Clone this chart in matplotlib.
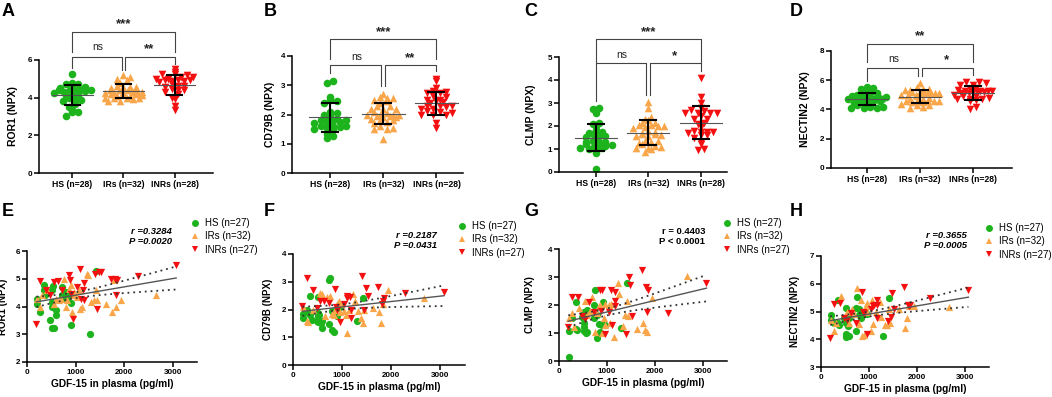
import numpy as np
import matplotlib
matplotlib.use("Agg")
import matplotlib.pyplot as plt
from matplotlib.lines import Line2D

plt.rcParams['font.family'] = ['Liberation Sans', 'DejaVu Sans']

# ---------------- data ----------------
GROUPS_TOP = ["HS (n=28)", "IRs (n=32)", "INRs (n=28)"]
GROUPS_BOT = ["HS (n=27)", "IRs (n=32)", "INRs (n=27)"]

HS_GDF15 = [207, 207, 276, 345, 345, 380, 483, 518, 518, 518, 518, 531, 566, 587, 587,
            725, 725, 759, 794, 794, 828, 863, 897, 911, 952, 1297, 1415]
IRS_GDF15 = [207, 276, 311, 414, 552, 587, 656, 690, 759, 794, 828, 863, 897, 932, 966, 966,
             1035, 1070, 1090, 1139, 1228, 1256, 1325, 1380, 1415, 1435, 1622, 1760, 1794,
             1829, 1932, 2657]
INRS_GDF15 = [193, 276, 400, 483, 552, 635, 725, 863, 876, 897, 952, 1035, 1090, 1104, 1159,
              1173, 1173, 1401, 1449, 1484, 1518, 1725, 1808, 1829, 1849, 2277, 3071]

ROR1_HS = [4.26, 4.10, 3.80, 4.58, 4.76, 4.40, 3.50, 3.98, 4.16, 4.58, 3.23, 4.73, 3.23, 3.86,
           3.68, 4.40, 4.70, 4.34, 4.52, 4.28, 4.34, 4.40, 3.32, 4.14, 4.40, 3.02, 5.28, 3.90]
ROR1_IRS = [4.28, 4.00, 4.40, 4.58, 4.10, 4.28, 4.22, 4.28, 5.00, 3.98, 4.22, 4.64, 4.76, 3.80,
            4.52, 4.40, 4.34, 4.58, 3.92, 3.98, 5.18, 5.12, 4.16, 4.25, 4.58, 4.22, 4.10, 3.80,
            4.94, 3.98, 4.25, 4.40]
ROR1_INRS = [3.36, 4.91, 4.60, 4.40, 4.88, 4.92, 4.58, 5.12, 4.94, 4.46, 3.56, 4.70, 5.36, 4.28,
             4.60, 4.85, 4.22, 5.18, 3.92, 5.24, 5.24, 5.00, 5.00, 4.43, 4.94, 5.09, 5.51, 4.00]

CD79B_HS = [1.84, 1.70, 2.00, 2.49, 1.80, 1.62, 1.60, 1.86, 2.45, 1.55, 1.75, 1.80, 1.50, 1.35,
            1.60, 3.07, 1.48, 3.15, 1.25, 1.95, 1.20, 1.80, 1.75, 2.05, 2.10, 1.57, 2.40, 2.60]
CD79B_IRS = [2.10, 1.60, 1.55, 2.00, 2.60, 2.55, 1.75, 2.45, 2.50, 1.85, 1.80, 2.00, 2.20, 2.30,
             1.90, 2.20, 1.95, 1.80, 1.15, 2.00, 2.55, 2.30, 1.95, 1.70, 1.50, 2.00, 2.05, 1.90,
             1.50, 2.20, 2.70, 2.40]
CD79B_INRS = [2.12, 3.13, 2.72, 2.05, 2.30, 2.30, 2.25, 2.75, 2.10, 2.00, 1.55, 2.20, 2.50, 2.42,
              2.45, 1.70, 2.00, 3.20, 2.00, 2.78, 2.50, 2.82, 2.20, 2.30, 2.40, 2.60, 2.62, 2.90]

CLMP_HS = [0.14, 1.06, 1.55, 2.11, 1.16, 1.12, 1.58, 1.36, 1.22, 1.70, 1.06, 1.76, 1.00, 1.82,
           1.04, 2.00, 1.52, 2.55, 0.82, 1.64, 1.31, 1.04, 1.30, 2.10, 1.30, 1.18, 2.79, 2.75]
CLMP_IRS = [1.55, 1.72, 1.20, 1.90, 2.15, 1.65, 1.80, 2.30, 1.05, 1.70, 1.95, 2.00, 1.00, 1.55,
            2.05, 1.30, 2.00, 1.35, 2.05, 0.85, 2.80, 2.40, 1.25, 1.65, 2.15, 1.60, 1.15, 1.35,
            1.10, 1.05, 2.25, 3.05]
CLMP_INRS = [1.20, 2.30, 2.30, 1.60, 1.50, 2.10, 1.75, 2.55, 1.80, 2.55, 0.98, 1.75, 2.55, 1.30,
             2.45, 2.15, 1.95, 0.95, 3.00, 2.70, 1.62, 3.25, 2.65, 1.75, 2.55, 1.70, 2.80, 4.10]

NECTIN2_HS = [4.87, 4.71, 4.57, 5.41, 4.57, 4.52, 4.75, 5.11, 4.14, 4.57, 4.08, 4.20, 4.47, 4.12,
              4.75, 4.30, 5.11, 5.53, 5.10, 4.87, 4.75, 4.93, 4.95, 5.00, 4.90, 4.11, 5.47, 4.70]
NECTIN2_IRS = [4.70, 4.30, 4.60, 5.55, 5.00, 4.60, 5.10, 4.90, 5.83, 4.55, 5.40, 4.10, 4.15, 5.20,
               5.00, 5.30, 4.30, 5.40, 4.55, 5.00, 5.35, 4.80, 4.50, 4.50, 5.10, 4.60, 5.10, 4.40,
               4.75, 5.20, 5.20, 5.15]
NECTIN2_INRS = [4.05, 5.28, 5.32, 4.75, 4.70, 4.95, 4.60, 5.70, 5.00, 4.95, 4.20, 5.10, 5.20, 5.25,
                4.75, 5.40, 5.25, 4.65, 4.80, 5.68, 5.10, 5.88, 5.25, 5.20, 5.25, 5.48, 5.78, 5.90]

MARKERS = ["ROR1 (NPX)", "CD79B (NPX)", "CLMP (NPX)", "NECTIN2 (NPX)"]
SIG = [("ns", "**", "***"), ("ns", "**", "***"), ("ns", "*", "***"), ("ns", "*", "**")]
STATS = [("r =0.3284", "P =0.0020"), ("r =0.2187", "P =0.0431"),
         ("r = 0.4403", "P < 0.0001"), ("r =0.3655", "P =0.0005")]

DATA = [(ROR1_HS, ROR1_IRS, ROR1_INRS), (CD79B_HS, CD79B_IRS, CD79B_INRS),
        (CLMP_HS, CLMP_IRS, CLMP_INRS), (NECTIN2_HS, NECTIN2_IRS, NECTIN2_INRS)]
GDF = (HS_GDF15, IRS_GDF15, INRS_GDF15)

# ---------------- style ----------------
COLORS = ["#1DB31D", "#F9A64A", "#F41010"]
MSHAPES = ["o", "^", "v"]
W, H = 1052, 397
fig = plt.figure(figsize=(W / 100, H / 100), dpi=100)


def add_ax(l, r, t, b):
    return fig.add_axes([l / W, 1 - b / H, (r - l) / W, (b - t) / H])


def style_ax(ax, lw=1.1):
    for s in ("top", "right"):
        ax.spines[s].set_visible(False)
    for s in ("left", "bottom"):
        ax.spines[s].set_linewidth(lw)
    ax.tick_params(width=lw, length=3.5, labelsize=5.8, pad=1.5)
    for lab in ax.get_xticklabels() + ax.get_yticklabels():
        lab.set_fontweight("bold")


def swarm(vals, binw, step=0.12, half=0.36):
    vals = np.asarray(vals, float)
    off = np.zeros(len(vals))
    bins = np.floor(vals / binw).astype(int)
    for b in np.unique(bins):
        idx = np.where(bins == b)[0]
        idx = idx[np.argsort(vals[idx])]
        k = len(idx)
        if k == 1:
            continue
        w = min(half, (k - 1) * step / 2)
        pos = np.linspace(-w, w, k)
        # interleave so that neighbouring values land on alternate sides
        inter = np.concatenate([pos[0::2], pos[1::2][::-1]])
        off[idx] = inter
    return off


TOP_BOXES = [(39, 213, 60, 173), (292, 463, 56, 173), (559, 727, 57, 172), (831, 1012, 51, 168)]
TOP_YLIM = [(0, 6, 2), (0, 4, 1), (0, 5, 1), (0, 8, 2)]
TOP_XLIM = [(-0.65, 2.75), (-0.72, 2.5), (-0.7, 2.5), (-0.68, 2.74)]
# upper bracket level, upper leg bottom, lower bracket level, leg gap
BRACKETS = [(7.49, 6.43, 6.16, 0.30), (4.58, 3.90, 3.69, 0.28),
            (5.78, 4.74, 4.74, 0.28), (8.50, 7.26, 6.85, 0.45)]
YLAB_X = [18, 275, 536, 810]
LETTERS_TOP = [("A", 2), ("B", 264), ("C", 524), ("D", 790)]

for i in range(4):
    l, r, t, b = TOP_BOXES[i]
    ax = add_ax(l, r, t, b)
    y0, y1, ys = TOP_YLIM[i]
    groups = DATA[i]
    for g in range(3):
        v = np.asarray(groups[g])
        off = swarm(v, binw=(y1 - y0) / 24)
        ax.scatter(g + off, v, s=30, marker=MSHAPES[g], color=COLORS[g], linewidths=0, zorder=2)
        m, sd = v.mean(), v.std(ddof=1)
        ax.plot([g - 0.40, g + 0.40], [m, m], color="#555555", lw=0.8, zorder=3)
        ax.plot([g, g], [m - sd, m + sd], color="black", lw=1.5, zorder=4)
        for yy in (m - sd, m + sd):
            ax.plot([g - 0.15, g + 0.15], [yy, yy], color="black", lw=1.5, zorder=4)
    ax.set_xlim(*TOP_XLIM[i])
    ax.set_ylim(y0, y1)
    ax.set_yticks(np.arange(y0, y1 + 0.001, ys))
    ax.set_yticklabels([f"{int(v)}" for v in np.arange(y0, y1 + 0.001, ys)])
    ax.set_xticks([0, 1, 2])
    ax.set_xticklabels(GROUPS_TOP)
    style_ax(ax)
    for lab in ax.get_xticklabels():
        lab.set_fontsize(6.2)
    ax.set_ylabel(MARKERS[i], fontsize=7.5, fontweight="bold")
    ax.yaxis.set_label_coords((YLAB_X[i] - l) / (r - l), 0.5)

    # significance brackets
    up, upleg, low, gap = BRACKETS[i]
    maxes = [max(gv) for gv in groups]
    kw = dict(color="#444444", lw=0.8, clip_on=False, zorder=5)
    d = 0.035
    legs = [min(low - 0.1 * ys, mx + gap) for mx in maxes]
    ax.plot([0, 0, 1 - d, 1 - d], [legs[0], low, low, legs[1]], **kw)
    ax.plot([1 + d, 1 + d, 2, 2], [legs[1], low, low, legs[2]], **kw)
    ax.plot([0, 0, 2, 2], [upleg, up, up, upleg], **kw)
    sig = SIG[i]
    tk = dict(ha="center", va="bottom", clip_on=False, color="#222222")
    ax.text(0.5, low + 0.12 * ys, sig[0], fontsize=7.5, **tk)
    ax.text(1.5, low + 0.04 * ys, sig[1], fontsize=9.5, fontweight="bold", **tk)
    ax.text(1.0, up + 0.04 * ys, sig[2], fontsize=9.5, fontweight="bold", **tk)

for lt, x in LETTERS_TOP:
    fig.text(x / W, 1 - 3 / H, lt, fontsize=13, fontweight="bold", ha="left", va="top")

# ---------------- bottom row ----------------
BOT_BOXES = [(27, 197, 251, 362), (293, 465, 254, 365), (559, 727, 249, 361), (821, 989, 256, 367)]
BOT_YLIM = [(2, 6), (0, 4), (0, 4), (3, 7)]
BOT_YLAB_X = [8, 273, 535, 800]
STAT_POS = [(172, 232), (437, 235), (705, 231), (967, 236)]
LEG_POS = [(190, 218), (457, 221), (722, 218), (984, 223)]
LETTERS_BOT = [("E", 2), ("F", 264), ("G", 524), ("H", 790)]

for i in range(4):
    l, r, t, b = BOT_BOXES[i]
    ax = add_ax(l, r, t, b)
    groups = DATA[i]
    xs_all, ys_all = [], []
    for g in range(3):
        x = np.asarray(GDF[g], float)
        y = np.asarray(groups[g][:len(x)], float)
        ax.scatter(x, y, s=27, marker=MSHAPES[g], color=COLORS[g], linewidths=0, zorder=2)
        xs_all.append(x)
        ys_all.append(y)
    X = np.concatenate(xs_all)
    Y = np.concatenate(ys_all)
    n = len(X)
    bcoef, acoef = np.polyfit(X, Y, 1)
    resid = Y - (acoef + bcoef * X)
    s = np.sqrt(np.sum(resid ** 2) / (n - 2))
    xm = X.mean()
    sxx = np.sum((X - xm) ** 2)
    xx = np.linspace(X.min(), X.max(), 200)
    yy = acoef + bcoef * xx
    ci = 1.99 * s * np.sqrt(1 / n + (xx - xm) ** 2 / sxx)
    ax.plot(xx, yy, color="#555555", lw=1.0, zorder=3)
    ax.plot(xx, yy + ci, color="#333333", lw=1.3, ls=(0, (1, 2.2)), zorder=3)
    ax.plot(xx, yy - ci, color="#333333", lw=1.3, ls=(0, (1, 2.2)), zorder=3)
    ax.set_xlim(0, 3500)
    y0, y1 = BOT_YLIM[i]
    ax.set_ylim(y0, y1)
    ax.set_xticks([0, 1000, 2000, 3000])
    ax.set_yticks(np.arange(y0, y1 + 0.001, 1))
    style_ax(ax)
    ax.set_xlabel("GDF-15 in plasma (pg/ml)", fontsize=7.3, fontweight="bold", labelpad=2)
    ax.set_ylabel(MARKERS[i], fontsize=7, fontweight="bold")
    ax.yaxis.set_label_coords((BOT_YLAB_X[i] - l) / (r - l), 0.5)

    sx, sy = STAT_POS[i]
    style = "normal" if i == 2 else "italic"
    fig.text(sx / W, 1 - sy / H, STATS[i][0], ha="right", va="center", fontsize=6.8,
             fontweight="bold", fontstyle=style)
    fig.text(sx / W, 1 - (sy + 10) / H, STATS[i][1], ha="right", va="center", fontsize=6.8,
             fontweight="bold", fontstyle=style)

    handles = [Line2D([], [], ls="none", marker=MSHAPES[g], color=COLORS[g], markersize=5,
                      markeredgewidth=0) for g in range(3)]
    lx, ly = LEG_POS[i]
    fig.legend(handles, GROUPS_BOT, loc="upper left", bbox_to_anchor=(lx / W, 1 - ly / H),
               bbox_transform=fig.transFigure, frameon=False, fontsize=7, handlelength=1.0,
               handletextpad=0.5, borderpad=0, borderaxespad=0, labelspacing=0.35)

for lt, x in LETTERS_BOT:
    fig.text(x / W, 1 - 203 / H, lt, fontsize=13, fontweight="bold", ha="left", va="top")

fig.savefig("out.png", dpi=100)
